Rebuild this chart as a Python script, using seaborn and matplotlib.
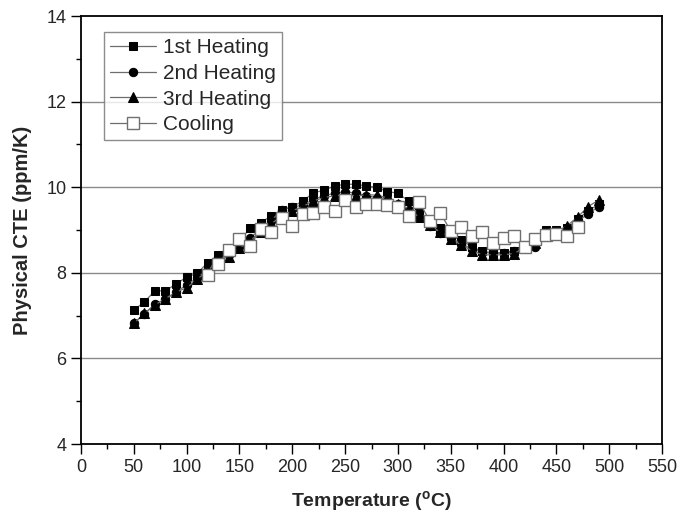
import matplotlib
matplotlib.use("Agg")
import matplotlib.pyplot as plt
import seaborn as sns
from matplotlib.ticker import MultipleLocator

temps = [50, 60, 70, 80, 90, 100, 110, 120, 130, 140, 150, 160, 170, 180, 190,
         200, 210, 220, 230, 240, 250, 260, 270, 280, 290, 300, 310, 320, 330,
         340, 350, 360, 370, 380, 390, 400, 410, 420, 430, 440, 450, 460, 470,
         480, 490]
heat1 = [7.13, 7.32, 7.58, 7.58, 7.74, 7.90, 7.99, 8.24, 8.42, 8.53, 8.75, 9.04,
         9.17, 9.33, 9.47, 9.54, 9.68, 9.87, 9.93, 10.03, 10.07, 10.07, 10.03,
         10.00, 9.90, 9.86, 9.68, 9.48, 9.18, 9.05, 8.85, 8.77, 8.60, 8.50, 8.47,
         8.47, 8.52, 8.65, 8.80, 9.00, 9.00, 9.05, 9.25, 9.45, 9.60]
heat2 = [6.82, 7.04, 7.27, 7.38, 7.55, 7.72, 7.88, 8.08, 8.30, 8.42, 8.60, 8.82,
         9.02, 9.22, 9.47, 9.54, 9.58, 9.72, 9.80, 9.86, 9.90, 9.86, 9.80, 9.76,
         9.72, 9.62, 9.48, 9.30, 9.10, 8.94, 8.82, 8.68, 8.56, 8.48, 8.46, 8.46,
         8.50, 8.62, 8.60, 8.85, 8.95, 9.05, 9.20, 9.38, 9.55]
heat3 = [6.82, 7.05, 7.25, 7.40, 7.55, 7.65, 7.85, 8.05, 8.30, 8.38, 8.58, 8.75,
         8.95, 9.15, 9.32, 9.45, 9.55, 9.68, 9.76, 9.80, 9.82, 9.80, 9.82, 9.82,
         9.75, 9.62, 9.50, 9.30, 9.12, 8.95, 8.80, 8.65, 8.52, 8.42, 8.42, 8.42,
         8.45, 8.60, 8.70, 8.85, 8.95, 9.10, 9.30, 9.55, 9.70]
cool_temps = [120, 130, 140, 150, 160, 170, 180, 190, 200, 210, 220, 230, 240,
              250, 260, 270, 280, 290, 300, 310, 320, 330, 340, 350, 360, 370,
              380, 390, 400, 410, 420, 430, 440, 450, 460, 470]
cool = [7.95, 8.20, 8.53, 8.80, 8.63, 9.03, 8.96, 9.27, 9.09, 9.38, 9.40, 9.54,
        9.45, 9.70, 9.53, 9.61, 9.62, 9.58, 9.53, 9.33, 9.66, 9.22, 9.40, 8.98,
        9.07, 8.86, 8.95, 8.70, 8.81, 8.86, 8.60, 8.80, 8.88, 8.90, 8.85, 9.07]

sns.set_style("white")
plt.rcParams['font.family'] = ['Liberation Sans', 'DejaVu Sans']

fig = plt.figure(figsize=(6.77, 5.19), dpi=100)
ax = fig.add_axes([0.1196, 0.1445, 0.8584, 0.8245])

line_kw = dict(color="#6e6e6e", linewidth=0.9, markeredgecolor="black",
               markerfacecolor="black")
sns.lineplot(x=temps, y=heat1, ax=ax, marker="s", markersize=5.5,
             label="1st Heating", **line_kw)
sns.lineplot(x=temps, y=heat2, ax=ax, marker="o", markersize=6,
             label="2nd Heating", **line_kw)
sns.lineplot(x=temps, y=heat3, ax=ax, marker="^", markersize=6.5,
             label="3rd Heating", **line_kw)
sns.lineplot(x=cool_temps, y=cool, ax=ax, marker="s", markersize=8.5,
             color="#6e6e6e", linewidth=0.9, markeredgecolor="#707070",
             markerfacecolor="white", markeredgewidth=1.0, label="Cooling")

ax.set_xlim(0, 550)
ax.set_ylim(4, 14)
ax.xaxis.set_major_locator(MultipleLocator(50))
ax.xaxis.set_minor_locator(MultipleLocator(25))
ax.yaxis.set_major_locator(MultipleLocator(2))
ax.yaxis.set_minor_locator(MultipleLocator(1))
for y in [6, 8, 10, 12]:
    ax.axhline(y, color="#8a8a8a", linewidth=1.0, zorder=0)

ax.tick_params(axis="both", which="major", direction="out", length=7,
               width=1, labelsize=13, color="black", bottom=True, left=True)
ax.tick_params(axis="both", which="minor", direction="out", length=3.5,
               width=1, color="black", bottom=True, left=True)
for s in ax.spines.values():
    s.set_color("black")
    s.set_linewidth(1.3)

ax.set_xlabel("Temperature ($\\mathregular{^{o}}$C)", fontsize=14,
              fontweight="bold", labelpad=10)
ax.set_ylabel("Physical CTE (ppm/K)", fontsize=14.5, fontweight="bold",
              labelpad=10)

leg = ax.legend(loc="upper left", bbox_to_anchor=(0.04, 0.963), fontsize=15,
                frameon=True, fancybox=False, borderpad=0.3,
                labelspacing=0.32, handlelength=2.2, handletextpad=0.3,
                borderaxespad=0)
leg.get_frame().set_edgecolor("#707070")
leg.get_frame().set_linewidth(1.0)

fig.savefig("out.png", dpi=100)
